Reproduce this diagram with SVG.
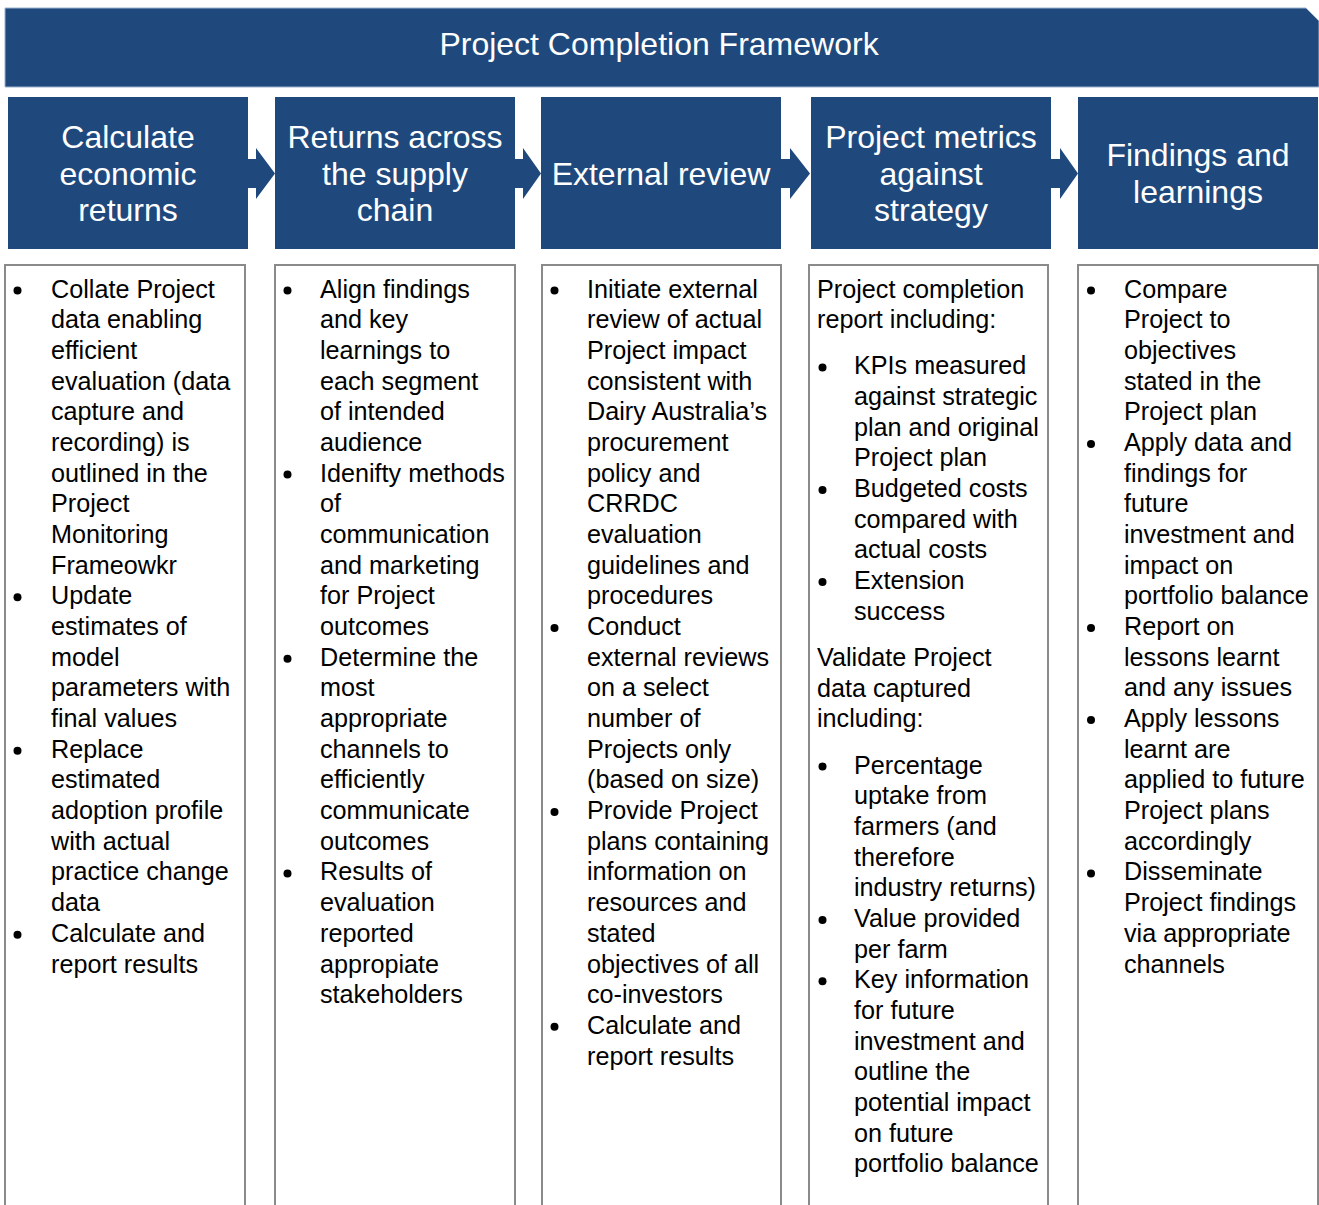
<svg xmlns="http://www.w3.org/2000/svg" width="1319" height="1205" viewBox="0 0 1319 1205">
<style>
.hdr{fill:#1F497D}
.ht{fill:#fff;font-family:"Liberation Sans",Arial,sans-serif;font-size:32px;text-anchor:middle}
.tt{fill:#fff;font-family:"Liberation Sans",Arial,sans-serif;font-size:32px;text-anchor:middle}
.box{fill:#fff;stroke:#8a8a8a;stroke-width:2}
.bt{fill:#000;font-family:"Liberation Sans",Arial,sans-serif;font-size:25.2px}
.dot{fill:#000}
.arr{fill:#1F497D}
</style>
<rect width="1319" height="1205" fill="#fff"/>
<g id="title">
<path d="M5,8 H1306 L1319,21 V87 H5 Z" fill="#1F497D" stroke="#9db3d1" stroke-width="1"/>
<text class="tt" x="659" y="55">Project Completion Framework</text>
</g>
<g id="h1"><rect class="hdr" x="8" y="97" width="240" height="152"/>
<text class="ht"><tspan x="128" y="148">Calculate</tspan><tspan x="128" y="184.5">economic</tspan><tspan x="128" y="221">returns</tspan></text></g>
<g id="h2"><rect class="hdr" x="275" y="97" width="240" height="152"/>
<text class="ht"><tspan x="395" y="148">Returns across</tspan><tspan x="395" y="184.5">the supply</tspan><tspan x="395" y="221">chain</tspan></text></g>
<g id="h3"><rect class="hdr" x="541" y="97" width="240" height="152"/>
<text class="ht"><tspan x="661" y="184.5">External review</tspan></text></g>
<g id="h4"><rect class="hdr" x="811" y="97" width="240" height="152"/>
<text class="ht"><tspan x="931" y="148">Project metrics</tspan><tspan x="931" y="184.5">against</tspan><tspan x="931" y="221">strategy</tspan></text></g>
<g id="h5"><rect class="hdr" x="1078" y="97" width="240" height="152"/>
<text class="ht"><tspan x="1198" y="166">Findings and</tspan><tspan x="1198" y="202.5">learnings</tspan></text></g>
<g id="connectors">
<polygon class="arr" points="248,159 256,159 256,148 275,173.5 256,199 256,188 248,188"/>
<polygon class="arr" points="515,159 523,159 523,148 541,173.5 523,199 523,188 515,188"/>
<polygon class="arr" points="781,159 790,159 790,148 810,173.5 790,199 790,188 781,188"/>
<polygon class="arr" points="1051,159 1060,159 1060,148 1078,173.5 1060,199 1060,188 1051,188"/>
</g>
<g id="b1"><rect class="box" x="5" y="265" width="240" height="960"/>
<circle class="dot" cx="17.5" cy="290.5" r="4"/><circle class="dot" cx="17.5" cy="597.3" r="4"/><circle class="dot" cx="17.5" cy="750.7" r="4"/><circle class="dot" cx="17.5" cy="934.8" r="4"/>
<text class="bt" transform="translate(0,-1)">
<tspan x="51" y="298.5">Collate Project</tspan>
<tspan x="51" y="329.2">data enabling</tspan>
<tspan x="51" y="359.9">efficient</tspan>
<tspan x="51" y="390.5">evaluation (data</tspan>
<tspan x="51" y="421.2">capture and</tspan>
<tspan x="51" y="451.9">recording) is</tspan>
<tspan x="51" y="482.6">outlined in the</tspan>
<tspan x="51" y="513.3">Project</tspan>
<tspan x="51" y="543.9">Monitoring</tspan>
<tspan x="51" y="574.6">Frameowkr</tspan>
<tspan x="51" y="605.3">Update</tspan>
<tspan x="51" y="636.0">estimates of</tspan>
<tspan x="51" y="666.7">model</tspan>
<tspan x="51" y="697.3">parameters with</tspan>
<tspan x="51" y="728.0">final values</tspan>
<tspan x="51" y="758.7">Replace</tspan>
<tspan x="51" y="789.4">estimated</tspan>
<tspan x="51" y="820.1">adoption profile</tspan>
<tspan x="51" y="850.7">with actual</tspan>
<tspan x="51" y="881.4">practice change</tspan>
<tspan x="51" y="912.1">data</tspan>
<tspan x="51" y="942.8">Calculate and</tspan>
<tspan x="51" y="973.5">report results</tspan>
</text></g>
<g id="b2"><rect class="box" x="275" y="265" width="240" height="960"/>
<circle class="dot" cx="287.5" cy="290.5" r="4"/><circle class="dot" cx="287.5" cy="474.6" r="4"/><circle class="dot" cx="287.5" cy="658.7" r="4"/><circle class="dot" cx="287.5" cy="873.4" r="4"/>
<text class="bt" transform="translate(0,-1)">
<tspan x="320" y="298.5">Align findings</tspan>
<tspan x="320" y="329.2">and key</tspan>
<tspan x="320" y="359.9">learnings to</tspan>
<tspan x="320" y="390.5">each segment</tspan>
<tspan x="320" y="421.2">of intended</tspan>
<tspan x="320" y="451.9">audience</tspan>
<tspan x="320" y="482.6">Idenifty methods</tspan>
<tspan x="320" y="513.3">of</tspan>
<tspan x="320" y="543.9">communication</tspan>
<tspan x="320" y="574.6">and marketing</tspan>
<tspan x="320" y="605.3">for Project</tspan>
<tspan x="320" y="636.0">outcomes</tspan>
<tspan x="320" y="666.7">Determine the</tspan>
<tspan x="320" y="697.3">most</tspan>
<tspan x="320" y="728.0">appropriate</tspan>
<tspan x="320" y="758.7">channels to</tspan>
<tspan x="320" y="789.4">efficiently</tspan>
<tspan x="320" y="820.1">communicate</tspan>
<tspan x="320" y="850.7">outcomes</tspan>
<tspan x="320" y="881.4">Results of</tspan>
<tspan x="320" y="912.1">evaluation</tspan>
<tspan x="320" y="942.8">reported</tspan>
<tspan x="320" y="973.5">appropiate</tspan>
<tspan x="320" y="1004.1">stakeholders</tspan>
</text></g>
<g id="b3"><rect class="box" x="542" y="265" width="239" height="960"/>
<circle class="dot" cx="554.5" cy="290.5" r="4"/><circle class="dot" cx="554.5" cy="628.0" r="4"/><circle class="dot" cx="554.5" cy="812.1" r="4"/><circle class="dot" cx="554.5" cy="1026.8" r="4"/>
<text class="bt" transform="translate(0,-1)">
<tspan x="587" y="298.5">Initiate external</tspan>
<tspan x="587" y="329.2">review of actual</tspan>
<tspan x="587" y="359.9">Project impact</tspan>
<tspan x="587" y="390.5">consistent with</tspan>
<tspan x="587" y="421.2">Dairy Australia’s</tspan>
<tspan x="587" y="451.9">procurement</tspan>
<tspan x="587" y="482.6">policy and</tspan>
<tspan x="587" y="513.3">CRRDC</tspan>
<tspan x="587" y="543.9">evaluation</tspan>
<tspan x="587" y="574.6">guidelines and</tspan>
<tspan x="587" y="605.3">procedures</tspan>
<tspan x="587" y="636.0">Conduct</tspan>
<tspan x="587" y="666.7">external reviews</tspan>
<tspan x="587" y="697.3">on a select</tspan>
<tspan x="587" y="728.0">number of</tspan>
<tspan x="587" y="758.7">Projects only</tspan>
<tspan x="587" y="789.4">(based on size)</tspan>
<tspan x="587" y="820.1">Provide Project</tspan>
<tspan x="587" y="850.7">plans containing</tspan>
<tspan x="587" y="881.4">information on</tspan>
<tspan x="587" y="912.1">resources and</tspan>
<tspan x="587" y="942.8">stated</tspan>
<tspan x="587" y="973.5">objectives of all</tspan>
<tspan x="587" y="1004.1">co-investors</tspan>
<tspan x="587" y="1034.8">Calculate and</tspan>
<tspan x="587" y="1065.5">report results</tspan>
</text></g>
<g id="b4"><rect class="box" x="809" y="265" width="239" height="960"/>
<circle class="dot" cx="822.5" cy="367.4" r="4"/><circle class="dot" cx="822.5" cy="490.1" r="4"/><circle class="dot" cx="822.5" cy="582.1" r="4"/><circle class="dot" cx="822.5" cy="766.5" r="4"/><circle class="dot" cx="822.5" cy="919.9" r="4"/><circle class="dot" cx="822.5" cy="981.3" r="4"/>
<text class="bt" transform="translate(0,-1)">
<tspan x="817" y="298.5">Project completion</tspan>
<tspan x="817" y="329.2">report including:</tspan>
<tspan x="854" y="375.4">KPIs measured</tspan>
<tspan x="854" y="406.0">against strategic</tspan>
<tspan x="854" y="436.7">plan and original</tspan>
<tspan x="854" y="467.4">Project plan</tspan>
<tspan x="854" y="498.1">Budgeted costs</tspan>
<tspan x="854" y="528.8">compared with</tspan>
<tspan x="854" y="559.4">actual costs</tspan>
<tspan x="854" y="590.1">Extension</tspan>
<tspan x="854" y="620.8">success</tspan>
<tspan x="817" y="667.0">Validate Project</tspan>
<tspan x="817" y="697.7">data captured</tspan>
<tspan x="817" y="728.3">including:</tspan>
<tspan x="854" y="774.5">Percentage</tspan>
<tspan x="854" y="805.2">uptake from</tspan>
<tspan x="854" y="835.9">farmers (and</tspan>
<tspan x="854" y="866.6">therefore</tspan>
<tspan x="854" y="897.2">industry returns)</tspan>
<tspan x="854" y="927.9">Value provided</tspan>
<tspan x="854" y="958.6">per farm</tspan>
<tspan x="854" y="989.3">Key information</tspan>
<tspan x="854" y="1020.0">for future</tspan>
<tspan x="854" y="1050.6">investment and</tspan>
<tspan x="854" y="1081.3">outline the</tspan>
<tspan x="854" y="1112.0">potential impact</tspan>
<tspan x="854" y="1142.7">on future</tspan>
<tspan x="854" y="1173.4">portfolio balance</tspan>
</text></g>
<g id="b5"><rect class="box" x="1078" y="265" width="240" height="960"/>
<circle class="dot" cx="1091" cy="290.5" r="4"/><circle class="dot" cx="1091" cy="443.9" r="4"/><circle class="dot" cx="1091" cy="628.0" r="4"/><circle class="dot" cx="1091" cy="720.0" r="4"/><circle class="dot" cx="1091" cy="873.4" r="4"/>
<text class="bt" transform="translate(0,-1)">
<tspan x="1124" y="298.5">Compare</tspan>
<tspan x="1124" y="329.2">Project to</tspan>
<tspan x="1124" y="359.9">objectives</tspan>
<tspan x="1124" y="390.5">stated in the</tspan>
<tspan x="1124" y="421.2">Project plan</tspan>
<tspan x="1124" y="451.9">Apply data and</tspan>
<tspan x="1124" y="482.6">findings for</tspan>
<tspan x="1124" y="513.3">future</tspan>
<tspan x="1124" y="543.9">investment and</tspan>
<tspan x="1124" y="574.6">impact on</tspan>
<tspan x="1124" y="605.3">portfolio balance</tspan>
<tspan x="1124" y="636.0">Report on</tspan>
<tspan x="1124" y="666.7">lessons learnt</tspan>
<tspan x="1124" y="697.3">and any issues</tspan>
<tspan x="1124" y="728.0">Apply lessons</tspan>
<tspan x="1124" y="758.7">learnt are</tspan>
<tspan x="1124" y="789.4">applied to future</tspan>
<tspan x="1124" y="820.1">Project plans</tspan>
<tspan x="1124" y="850.7">accordingly</tspan>
<tspan x="1124" y="881.4">Disseminate</tspan>
<tspan x="1124" y="912.1">Project findings</tspan>
<tspan x="1124" y="942.8">via appropriate</tspan>
<tspan x="1124" y="973.5">channels</tspan>
</text></g>
</svg>
